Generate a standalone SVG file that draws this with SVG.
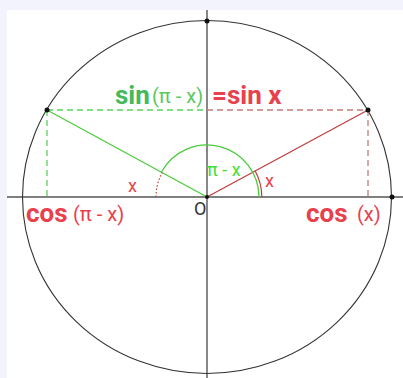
<svg xmlns="http://www.w3.org/2000/svg" width="403" height="378" viewBox="0 0 403 378">
<style>
.axis{stroke:#555;stroke-width:1.4;fill:none}
.circ{stroke:#333;stroke-width:1.1;fill:none}
.gl{stroke:#4ccc3c;stroke-width:1.3;fill:none}
.rl{stroke:#c03b3b;stroke-width:1.2;fill:none}
.gd{stroke:#5ad45a;stroke-width:1.3;stroke-dasharray:6 4;fill:none}
.rd{stroke:#c77a7a;stroke-width:1.3;stroke-dasharray:6 4;fill:none}
.dot{fill:#111}
text{font-family:Roboto,"Liberation Sans",Arial,sans-serif}
.big{font-weight:bold;font-size:26px}
.red{fill:#e8404c}
.grn{fill:#44b85a}
.arg{font-size:20px}
.sm{font-size:18px}
</style>
<rect width="403" height="378" fill="#f3f3fd"/>
<rect x="7" y="10" width="396" height="368" fill="#fff"/>
<g id="axes">
<line class="axis" x1="7" y1="197" x2="403" y2="197"/>
<line class="axis" x1="207" y1="10" x2="207" y2="378"/>
</g>
<g id="circle">
<ellipse class="circ" cx="207" cy="197" rx="184.5" ry="176.5"/>
</g>
<g id="connectors">
<line class="gd" x1="47" y1="110" x2="207" y2="110"/>
<line class="rd" x1="207" y1="110" x2="368" y2="110"/>
<line class="gd" x1="47" y1="110" x2="47" y2="197"/>
<line class="rd" x1="368" y1="110" x2="368" y2="197"/>
<line class="gl" x1="47" y1="110" x2="207" y2="197"/>
<line class="rl" x1="207" y1="197" x2="368" y2="110"/>
<path class="gl" d="M161.3 172.2 A52 52 0 0 1 259 197"/>
<path class="rl" d="M255.2 171 A54.8 54.8 0 0 1 261.8 197"/>
<path d="M156 197 A51 51 0 0 1 162.2 172.6" fill="none" stroke="#c03b3b" stroke-width="1.2" stroke-dasharray="1.5 2"/>
</g>
<g id="points">
<circle class="dot" cx="207" cy="21" r="2.5"/>
<circle class="dot" cx="47" cy="110" r="2.5"/>
<circle class="dot" cx="368" cy="110" r="2.5"/>
<circle class="dot" cx="392" cy="197" r="2.5"/>
<circle class="dot" cx="207" cy="197" r="2"/>
</g>
<g id="labels">
<text class="big grn" x="115" y="104">sin</text>
<text class="arg" x="152" y="103" fill="#5cc85c">(π - x)</text>
<text class="big red" x="212" y="104">=sin x</text>
<text class="sm" x="207" y="176" fill="#44dd33">π - x</text>
<text class="sm red" x="128" y="192">x</text>
<text class="sm red" x="265" y="187">x</text>
<text class="sm" x="194" y="215" fill="#333">O</text>
<text class="big red" x="26" y="222">cos</text>
<text class="arg red" x="73" y="221">(π - x)</text>
<text class="big red" x="306" y="222">cos</text>
<text class="arg red" x="357" y="221">(x)</text>
</g>
</svg>
